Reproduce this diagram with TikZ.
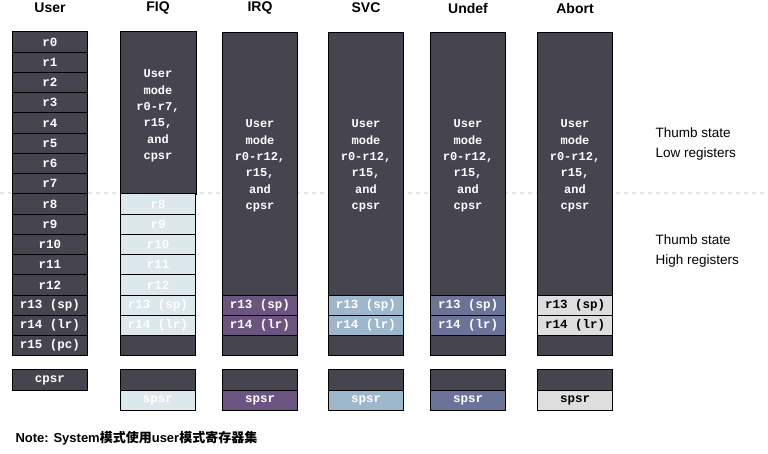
\documentclass[tikz,border=0pt]{standalone}
\usepackage{fontspec}
\setmainfont{Liberation Sans}
\setmonofont{Liberation Mono}
\newfontfamily\cjk{Noto Sans CJK SC}
\definecolor{regdark}{HTML}{45444F}
\definecolor{fiqc}{HTML}{DDE8EC}
\definecolor{irqc}{HTML}{6B5580}
\definecolor{svcc}{HTML}{9DB7CC}
\definecolor{undc}{HTML}{6C7398}
\definecolor{abtc}{HTML}{DEDEDE}
\begin{document}
\begin{tikzpicture}[x=1pt,y=-1pt,
			reg/.style = {draw=black, line width=0.8pt, fill=regdark, text=white,
				minimum width=75pt, minimum height=20.25pt, inner sep=0pt,
				font=\ttfamily\bfseries\fontsize{12.5}{13}\selectfont},
			head/.style = {font=\bfseries\fontsize{14}{15}\selectfont},
			blk/.style = {text=white, align=center, font=\ttfamily\bfseries\fontsize{12}{16.4}\selectfont},
			side/.style = {align=left, font=\fontsize{13.5}{20}\selectfont},
			]
			\useasboundingbox (0,0) rectangle (768,454);
			\draw[dash pattern=on 4pt off 4pt, line width=2.5pt, color=fiqc] (0,193) -- (768,193);
			% user column
			\node[head] (hUser) at (50,8) {User};
			\foreach \i in {0,...,12}
				\node[reg] (u\i) at (50,{42+20.25*\i}) {r\i};
			\node[reg] (u13) at (50,{42+20.25*13}) {r13 (sp)};
			\node[reg] (u14) at (50,{42+20.25*14}) {r14 (lr)};
			\node[reg] (u15) at (50,{42+20.25*15}) {r15 (pc)};
			\node[reg] (ucpsr) at (50,380) {cpsr};
			% FIQ column
			\node[head] (hFIQ) at (158,8) {FIQ};
			\foreach \i in {0,...,7}
				\node[reg, draw=regdark] (f\i) at (158,{42+20.25*\i}) {};
			\draw[line width=0.8pt] (f0.north west) rectangle (f7.south east);
			\node[blk] (ftxt) at (158,116) {User\\mode\\r0-r7,\\r15,\\and\\cpsr};
			\foreach \i in {8,...,12}
				\node[reg, fill=fiqc] (f\i) at (158,{42+20.25*\i}) {r\i};
			\node[reg, fill=fiqc] (f13) at (158,{42+20.25*13}) {r13 (sp)};
			\node[reg, fill=fiqc] (f14) at (158,{42+20.25*14}) {r14 (lr)};
			\node[reg] (f15) at (158,{42+20.25*15}) {};
			\node[reg] (fgap) at (158,380) {};
			\node[reg, fill=fiqc] (fspsr) at (158,400.25) {spsr};
			% other modes
			\foreach \name/\cx/\col/\tc in {IRQ/260/irqc/white, SVC/366/svcc/white,
					Undef/468/undc/white, Abort/575/abtc/black} {
				\node[head] (h\name) at (\cx,8) {\name};
				\node[reg, minimum height=263.25pt] (\name top) at (\cx,{32+263.25/2}) {};
				\node[blk] (\name txt) at (\cx,166) {User\\mode\\r0-r12,\\r15,\\and\\cpsr};
				\node[reg, fill=\col, text=\tc] (\name13) at (\cx,{42+20.25*13}) {r13 (sp)};
				\node[reg, fill=\col, text=\tc] (\name14) at (\cx,{42+20.25*14}) {r14 (lr)};
				\node[reg] (\name15) at (\cx,{42+20.25*15}) {};
				\node[reg] (\name gap) at (\cx,380) {};
				\node[reg, fill=\col, text=\tc] (\name spsr) at (\cx,400.25) {spsr};
			}
			% thumb labels
			\node[side, anchor=west] (lowlbl) at (652,144) {Thumb state\\Low registers};
			\node[side, anchor=west] (highlbl) at (652,251) {Thumb state\\High registers};
			\node[anchor=west, font=\bfseries\fontsize{13}{15}\selectfont] (note) at (12,438)
				{Note: System{\cjk 模式使用}user{\cjk 模式寄存器集}};
		\end{tikzpicture}
\end{document}
